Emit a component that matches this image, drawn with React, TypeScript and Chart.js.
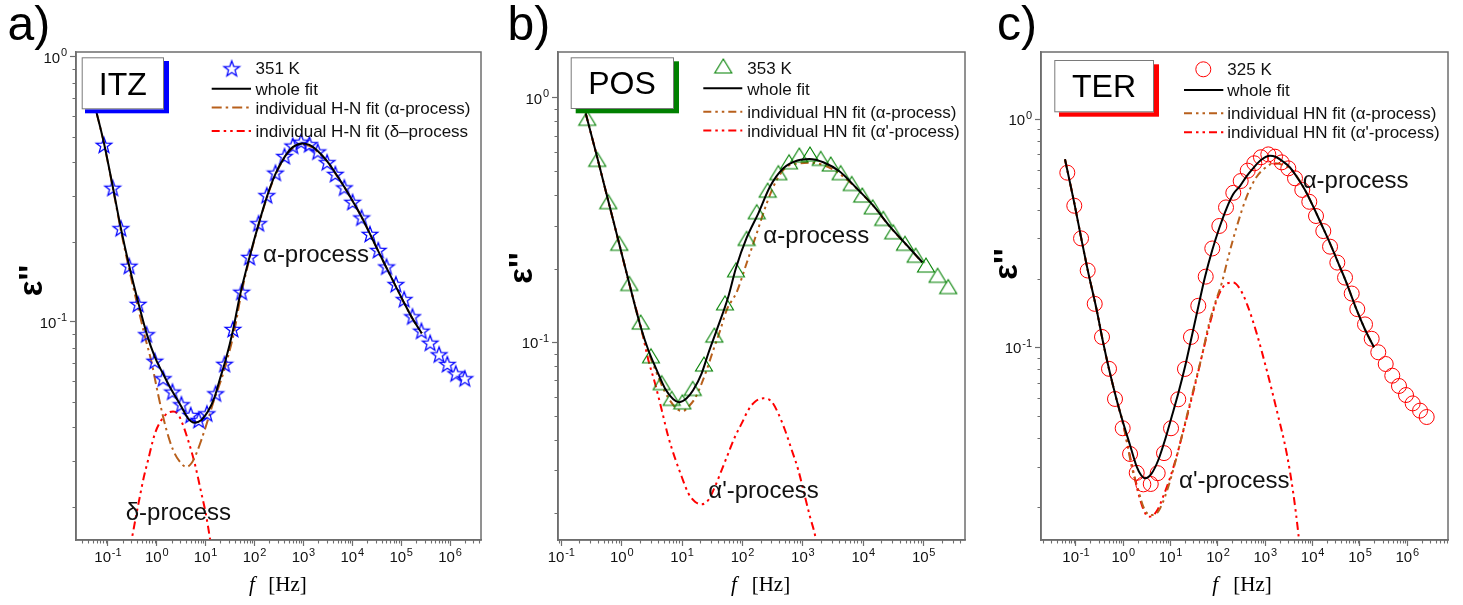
import React, { useEffect, useRef } from 'react';
import { Chart, registerables } from 'chart.js';

Chart.register(...registerables);

// ---------------- data: (a) ITZ, 351 K ----------------
const itzFreq = [0.0829, 0.125, 0.184, 0.272, 0.415, 0.616, 0.910, 1.35, 2.09, 3.19, 4.94, 7.2, 10.6, 16.0, 24.4, 36.1, 54.3, 79.1, 121, 178, 268, 410, 605, 898, 1325, 1959, 3048, 4500, 6870, 10140, 15490, 22970, 33960, 50140, 78000, 115000, 170000, 259000, 391000, 597000, 881000, 1.31e6, 2.0e6];
const itzEps = [0.466, 0.321, 0.226, 0.163, 0.117, 0.0899, 0.0714, 0.0613, 0.0546, 0.0489, 0.0446, 0.0427, 0.0452, 0.0538, 0.0695, 0.0941, 0.130, 0.176, 0.236, 0.301, 0.366, 0.423, 0.463, 0.479, 0.469, 0.440, 0.401, 0.362, 0.322, 0.284, 0.248, 0.215, 0.187, 0.162, 0.139, 0.122, 0.105, 0.0927, 0.0835, 0.0755, 0.0694, 0.0640, 0.0613];
const itzFitFreq = [0.0471, 0.0588, 0.0829, 0.125, 0.184, 0.272, 0.415, 0.616, 0.910, 1.35, 1.84, 3.19, 4.35, 5.96, 8.17, 11.1, 15.3, 19.3, 25.6, 35.6, 49.4, 79.1, 121, 178, 268, 410, 605, 955, 1325, 1959, 3048, 4500, 6870, 10140, 15490, 22970, 33960, 50140, 78000, 115000, 170000, 264000];
const itzFitEps = [0.725, 0.615, 0.474, 0.326, 0.226, 0.163, 0.119, 0.0908, 0.0738, 0.0636, 0.0570, 0.0479, 0.0433, 0.0417, 0.0427, 0.0459, 0.0522, 0.0604, 0.0719, 0.0917, 0.124, 0.176, 0.234, 0.296, 0.362, 0.419, 0.457, 0.472, 0.466, 0.442, 0.405, 0.365, 0.323, 0.286, 0.249, 0.215, 0.185, 0.160, 0.136, 0.118, 0.103, 0.0906];
const itzAlphaFreq = [0.0471, 0.0588, 0.0829, 0.125, 0.184, 0.272, 0.415, 0.596, 0.780, 0.986, 1.247, 1.578, 2.15, 2.95, 4.04, 5.11, 6.46, 8.17, 11.1, 15.3, 20.7, 27.5, 38.2, 51.8, 79.1, 121, 178, 268, 410, 605, 955, 1325, 1959, 3048, 4500, 6870, 10140, 15490, 22970, 33960, 50140, 78000, 115000, 170000, 264000];
const itzAlphaEps = [0.725, 0.615, 0.472, 0.323, 0.222, 0.158, 0.113, 0.0855, 0.0706, 0.0570, 0.0466, 0.0391, 0.0329, 0.0297, 0.0284, 0.0293, 0.0319, 0.0359, 0.0427, 0.0516, 0.0604, 0.0719, 0.0917, 0.124, 0.174, 0.232, 0.294, 0.359, 0.416, 0.453, 0.468, 0.462, 0.438, 0.403, 0.363, 0.323, 0.286, 0.249, 0.215, 0.185, 0.160, 0.136, 0.118, 0.103, 0.0906];
const itzDeltaFreq = [0.268, 0.305, 0.373, 0.450, 0.543, 0.664, 0.910, 1.247, 1.70, 2.15, 2.68, 3.19, 4.35, 5.96, 8.17, 10.0, 12.07, 13.25];
const itzDeltaEps = [0.01332, 0.01504, 0.01837, 0.02193, 0.02600, 0.03015, 0.0378, 0.0427, 0.0454, 0.0459, 0.0450, 0.0423, 0.0359, 0.0293, 0.02257, 0.01902, 0.01548, 0.01379];

// ---------------- data: (b) POS, 353 K ----------------
const posFreq = [0.269, 0.394, 0.600, 0.912, 1.34, 2.06, 3.05, 4.59, 6.73, 10.1, 15.0, 23.0, 34.2, 51.3, 78.0, 117, 172, 261, 392, 589, 872, 1311, 1972, 2886, 4223, 6427, 9624, 14310, 21440, 31390, 49000, 73700, 109000, 170000, 255000];
const posEps = [0.824, 0.560, 0.376, 0.254, 0.174, 0.121, 0.0881, 0.0684, 0.0590, 0.0571, 0.0648, 0.0815, 0.107, 0.145, 0.198, 0.266, 0.342, 0.419, 0.494, 0.547, 0.583, 0.589, 0.565, 0.536, 0.494, 0.446, 0.400, 0.358, 0.321, 0.283, 0.254, 0.227, 0.207, 0.188, 0.169];
const posFitFreq = [0.2535, 0.394, 0.600, 0.913, 1.336, 2.14, 2.76, 3.80, 5.21, 7.15, 8.99, 11.9, 15.3, 21.1, 27.2, 37.4, 58.2, 78.0, 117, 183, 285, 474, 789, 1276, 2177, 4113, 7776, 14650, 27670, 52300, 94900];
const posFitEps = [0.863, 0.569, 0.378, 0.252, 0.174, 0.1122, 0.0930, 0.0770, 0.0648, 0.0585, 0.0569, 0.0590, 0.0638, 0.0747, 0.0902, 0.1122, 0.1536, 0.2013, 0.267, 0.3368, 0.4326, 0.5145, 0.5526, 0.5615, 0.5445, 0.4981, 0.4262, 0.3618, 0.2970, 0.2499, 0.2124];
const posAlphaFreq = [0.2535, 0.394, 0.600, 0.913, 1.336, 2.14, 2.76, 3.80, 5.21, 7.15, 8.65, 10.47, 12.67, 16.35, 21.1, 25.5, 32.9, 42.4, 54.7, 80.2, 117, 172, 252, 368, 539, 895, 1311, 2177, 3627, 7776, 14650, 27670, 52300, 94900];
const posAlphaEps = [0.863, 0.569, 0.378, 0.252, 0.174, 0.1112, 0.0913, 0.0749, 0.0626, 0.0554, 0.0529, 0.0524, 0.0545, 0.0590, 0.0680, 0.0770, 0.0930, 0.1112, 0.1355, 0.1605, 0.2104, 0.279, 0.370, 0.4608, 0.5223, 0.5393, 0.5424, 0.5307, 0.4981, 0.4254, 0.3611, 0.2964, 0.2494, 0.2120];
const posAlphaPrimeFreq = [0.2535, 0.394, 0.600, 0.913, 1.336, 2.14, 2.76, 3.56, 4.60, 5.91, 7.63, 9.85, 12.67, 16.35, 21.1, 27.2, 35.0, 45.2, 58.2, 75.1, 97.0, 125, 161, 221, 304, 391, 505, 653, 839, 1083, 1311, 1586, 1778];
const posAlphaPrimeEps = [0.863, 0.569, 0.378, 0.252, 0.1731, 0.1122, 0.0847, 0.0680, 0.0529, 0.0411, 0.0336, 0.02821, 0.02414, 0.02230, 0.02176, 0.02266, 0.02569, 0.03005, 0.03517, 0.0411, 0.0466, 0.0529, 0.0572, 0.0590, 0.0572, 0.0512, 0.0438, 0.0363, 0.03005, 0.02337, 0.01936, 0.01630, 0.01389];

// ---------------- data: (c) TER, 325 K ----------------
const terFreq = [0.0656, 0.0922, 0.128, 0.177, 0.249, 0.355, 0.499, 0.668, 0.971, 1.39, 1.92, 2.65, 3.80, 5.33, 7.25, 10.2, 14.5, 20.1, 26.9, 38.4, 55.1, 75.9, 107, 148, 211, 302, 425, 586, 811, 1158, 1604, 2222, 3064, 4244, 6056, 8511, 11790, 16820, 23330, 33270, 48400, 67000, 87900, 128000, 177000, 244000, 350000, 482000, 668000, 940000, 1.30e6, 1.86e6, 2.57e6];
const terEps = [0.582, 0.417, 0.300, 0.217, 0.155, 0.111, 0.0805, 0.0594, 0.0442, 0.0341, 0.0282, 0.0251, 0.0252, 0.0281, 0.0344, 0.0442, 0.0592, 0.0804, 0.111, 0.152, 0.204, 0.271, 0.340, 0.410, 0.475, 0.535, 0.594, 0.640, 0.680, 0.700, 0.684, 0.646, 0.608, 0.550, 0.489, 0.434, 0.376, 0.323, 0.276, 0.235, 0.202, 0.172, 0.147, 0.126, 0.109, 0.0951, 0.0845, 0.0751, 0.0677, 0.0618, 0.0568, 0.0528, 0.0495];
const terFitFreq = [0.0586, 0.0922, 0.1277, 0.1770, 0.274, 0.378, 0.524, 0.7255, 1.0, 1.385, 1.919, 2.366, 2.874, 3.98, 5.49, 7.60, 10.53, 14.52, 20.12, 27.87, 38.4, 53.2, 75.9, 106.7, 153, 211, 292, 405, 558, 812, 1258, 1684, 2402, 3327, 4609, 6902, 10340, 15550, 23290, 34880, 52480, 85360, 127900, 198100];
const terFitEps = [0.666, 0.4285, 0.3041, 0.2182, 0.1457, 0.1041, 0.0769, 0.0588, 0.04646, 0.03733, 0.02999, 0.02758, 0.02668, 0.02805, 0.03209, 0.03926, 0.04966, 0.0629, 0.0822, 0.1113, 0.1506, 0.2032, 0.2668, 0.3331, 0.4075, 0.4693, 0.5087, 0.5627, 0.6099, 0.6614, 0.6906, 0.6818, 0.6501, 0.6132, 0.5588, 0.4887, 0.4128, 0.3433, 0.2854, 0.2340, 0.1907, 0.1457, 0.1197, 0.1];
const terAlphaFreq = [0.0586, 0.0922, 0.1277, 0.1770, 0.274, 0.378, 0.524, 0.7255, 1.0, 1.227, 1.504, 2.075, 2.646, 3.665, 5.08, 6.48, 8.93, 12.37, 17.13, 23.62, 32.7, 45.4, 62.5, 86.6, 120, 165.4, 249, 405, 658, 1071, 1477, 2402, 3907, 6902, 10340, 15550, 23290, 34880, 52480, 85360, 127900, 198100];
const terAlphaEps = [0.666, 0.4285, 0.3041, 0.2182, 0.1457, 0.1041, 0.0769, 0.0588, 0.04613, 0.03733, 0.02999, 0.02371, 0.02003, 0.01842, 0.01874, 0.02039, 0.02451, 0.03103, 0.04058, 0.0531, 0.0696, 0.0910, 0.1231, 0.1559, 0.1907, 0.2486, 0.3375, 0.4567, 0.5588, 0.6180, 0.6397, 0.6288, 0.5876, 0.4887, 0.4128, 0.3433, 0.2854, 0.2340, 0.1907, 0.1457, 0.1197, 0.1];
const terAlphaPrimeFreq = [0.0586, 0.0922, 0.1277, 0.1770, 0.274, 0.378, 0.524, 0.7255, 1.0, 1.257, 1.603, 2.075, 2.646, 3.375, 4.242, 5.41, 6.90, 9.70, 13.43, 18.52, 25.66, 35.55, 49.0, 67.9, 94.1, 127.8, 165.4, 211, 292, 405, 658, 1071, 1742, 2834, 3907, 4983, 5413];
const terAlphaPrimeEps = [0.666, 0.4285, 0.3041, 0.2182, 0.1457, 0.1041, 0.0769, 0.0588, 0.04567, 0.03658, 0.02902, 0.02300, 0.01957, 0.01811, 0.01833, 0.01957, 0.02210, 0.02676, 0.03341, 0.04299, 0.0559, 0.0733, 0.0973, 0.1278, 0.1611, 0.1837, 0.1912, 0.1922, 0.1800, 0.1559, 0.1151, 0.0795, 0.0531, 0.03431, 0.02293, 0.01532, 0.01295];

// ---------------- ticks (decade exponents) ----------------
const xDecadesA = [-1, 0, 1, 2, 3, 4, 5, 6];
const xDecadesB = [-1, 0, 1, 2, 3, 4, 5];
const xDecadesC = [-1, 0, 1, 2, 3, 4, 5, 6];
const yDecades = [-1, 0];

// ---------------- texts ----------------
const legendA = ['351 K', 'whole fit', 'individual H-N fit (α-process)', 'individual H-N fit (δ–process'];
const legendB = ['353 K', 'whole fit', 'individual HN fit (α-process)', "individual HN fit (α'-process)"];
const legendC = ['325 K', 'whole fit', 'individual HN fit (α-process)', "individual HN fit (α'-process)"];

// ---------------- styles ----------------
const FONT = '"Liberation Sans", Arial, "DejaVu Sans", sans-serif';
const SERIF = '"Liberation Serif", "Times New Roman", serif';
const BLUE = '#0000ff';
const GREEN = '#008000';
const RED = '#ff0000';
const BROWN = '#b8601c';
const BLACK = '#000000';
const AXIS = '#6e6e6e';
const DASH_DOT = [10, 4, 2.5, 4];
const DASH_DOT_DOT = [8, 4, 2.5, 4, 2.5, 4];

function pts(xs: number[], ys: number[]) {
  return xs.map((x, i) => ({ x, y: ys[i] }));
}

function makeStar(): HTMLCanvasElement {
  const c = document.createElement('canvas');
  c.width = 20; c.height = 20;
  const ctx = c.getContext('2d')!;
  ctx.beginPath();
  for (let i = 0; i < 10; i++) {
    const r = i % 2 === 0 ? 8.2 : 3.4;
    const a = -Math.PI / 2 + (i * Math.PI) / 5;
    const px = 10 + r * Math.cos(a);
    const py = 10.8 + r * Math.sin(a);
    if (i === 0) ctx.moveTo(px, py); else ctx.lineTo(px, py);
  }
  ctx.closePath();
  ctx.strokeStyle = BLUE; ctx.lineWidth = 1.3; ctx.lineJoin = 'miter';
  ctx.stroke();
  return c;
}

function makeTriangle(): HTMLCanvasElement {
  const c = document.createElement('canvas');
  c.width = 20; c.height = 18;
  const ctx = c.getContext('2d')!;
  ctx.beginPath();
  ctx.moveTo(10, 2); ctx.lineTo(18.5, 16); ctx.lineTo(1.5, 16); ctx.closePath();
  ctx.strokeStyle = GREEN; ctx.lineWidth = 1.1;
  ctx.stroke();
  return c;
}

type Markers = { star: HTMLCanvasElement; tri: HTMLCanvasElement };

function lineDs(xs: number[], ys: number[], color: string, dash: number[], order: number) {
  return {
    data: pts(xs, ys), showLine: true, borderColor: color, backgroundColor: color, borderWidth: 2,
    borderDash: dash, borderCapStyle: 'butt', pointRadius: 0, pointHoverRadius: 0,
    cubicInterpolationMode: 'monotone', fill: false, clip: 0, order,
  };
}
function markerDs(xs: number[], ys: number[], style: any, color: string, radius: number, order: number) {
  return {
    data: pts(xs, ys), showLine: false, pointStyle: style, pointRadius: radius, pointHoverRadius: radius,
    pointBorderColor: color, pointBackgroundColor: 'rgba(0,0,0,0)', pointBorderWidth: 1,
    borderColor: color, backgroundColor: 'rgba(0,0,0,0)', order,
  };
}

type Row = { text: string; base: number; lineY?: number; color?: string; dash?: number[] };
type PanelDef = {
  offsetX: number; width: number; yAxisWidth: number; padRight: number;
  xMin: number; xMax: number; yMin: number; yMax: number;
  xDecades: number[]; yDecades: number[];
  series: (m: Markers) => any[];
  label: string; labelX: number;
  epsX: number; epsY: number; fX: number; hzX: number;
  box: { x: number; y: number; w: number; h: number; sx: number; sy: number; sw: number; sh: number; color: string; text: string; tx: number; ty: number };
  legend: { textX: number; l0: number; l1: number; marker: 'star' | 'tri' | 'circle'; mx: number; my: number; rows: Row[] };
  notes: { text: string; x: number; base: number }[];
};

const panelA: PanelDef = {
  offsetX: 0, width: 490, yAxisWidth: 76, padRight: 8,
  xMin: 0.02223, xMax: 4.295e6, yMin: 0.01504, yMax: 1.0444,
  xDecades: xDecadesA, yDecades,
  series: (m) => [
    lineDs(itzFitFreq, itzFitEps, BLACK, [], 0),
    markerDs(itzFreq, itzEps, m.star, BLUE, 8, 1),
    lineDs(itzAlphaFreq, itzAlphaEps, BROWN, DASH_DOT, 2),
    lineDs(itzDeltaFreq, itzDeltaEps, RED, DASH_DOT_DOT, 3),
  ],
  label: 'a)', labelX: 7.5,
  epsX: 41.7, epsY: 280.5, fX: 249, hzX: 268.3,
  box: { x: 81.7, y: 57.3, w: 82.3, h: 52, sx: 85, sy: 61, sw: 84, sh: 52.3, color: BLUE, text: 'ITZ', tx: 122.8, ty: 95 },
  legend: {
    textX: 255.5, l0: 211.7, l1: 251, marker: 'star', mx: 231.7, my: 68.3,
    rows: [
      { text: legendA[0], base: 74 },
      { text: legendA[1], base: 95, lineY: 88.7, color: BLACK, dash: [] },
      { text: legendA[2], base: 114.3, lineY: 107.5, color: BROWN, dash: DASH_DOT },
      { text: legendA[3], base: 136.7, lineY: 131, color: RED, dash: DASH_DOT_DOT },
    ],
  },
  notes: [
    { text: 'α-process', x: 263, base: 262 },
    { text: 'δ-process', x: 125.7, base: 520 },
  ],
};

const panelB: PanelDef = {
  offsetX: 490, width: 490, yAxisWidth: 68, padRight: 15,
  xMin: 0.0882, xMax: 4.83e5, yMin: 0.01555, yMax: 1.538,
  xDecades: xDecadesB, yDecades,
  series: (m) => [
    lineDs(posFitFreq, posFitEps, BLACK, [], 0),
    markerDs(posFreq, posEps, m.tri, GREEN, 8, 1),
    lineDs(posAlphaFreq, posAlphaEps, BROWN, DASH_DOT_DOT, 2),
    lineDs(posAlphaPrimeFreq, posAlphaPrimeEps, RED, DASH_DOT_DOT, 3),
  ],
  label: 'b)', labelX: 507.5,
  epsX: 531.7, epsY: 268, fX: 731, hzX: 751.7,
  box: { x: 570.7, y: 57.3, w: 103.3, h: 51.7, sx: 575.7, sy: 61.3, sw: 103.3, sh: 52, color: GREEN, text: 'POS', tx: 622, ty: 94.3 },
  legend: {
    textX: 747.3, l0: 703.3, l1: 742.3, marker: 'tri', mx: 723.3, my: 66,
    rows: [
      { text: legendB[0], base: 74 },
      { text: legendB[1], base: 95, lineY: 88.3, color: BLACK, dash: [] },
      { text: legendB[2], base: 117.7, lineY: 111.7, color: BROWN, dash: DASH_DOT_DOT },
      { text: legendB[3], base: 136.7, lineY: 130.5, color: RED, dash: DASH_DOT_DOT },
    ],
  },
  notes: [
    { text: 'α-process', x: 763.3, base: 243.3 },
    { text: "α'-process", x: 708.3, base: 498.3 },
  ],
};

const panelC: PanelDef = {
  offsetX: 980, width: 483, yAxisWidth: 61, padRight: 15,
  xMin: 0.01825, xMax: 7.25e6, yMin: 0.01432, yMax: 1.966,
  xDecades: xDecadesC, yDecades,
  series: () => [
    lineDs(terFitFreq, terFitEps, BLACK, [], 0),
    markerDs(terFreq, terEps, 'circle', RED, 7.5, 1),
    lineDs(terAlphaFreq, terAlphaEps, BROWN, DASH_DOT_DOT, 2),
    lineDs(terAlphaPrimeFreq, terAlphaPrimeEps, RED, DASH_DOT_DOT, 3),
  ],
  label: 'c)', labelX: 997,
  epsX: 1016.7, epsY: 264, fX: 1212.3, hzX: 1233.3,
  box: { x: 1054.3, y: 60, w: 99.7, h: 52.3, sx: 1059, sy: 64.3, sw: 100, sh: 52.4, color: RED, text: 'TER', tx: 1104, ty: 97.3 },
  legend: {
    textX: 1227.3, l0: 1184, l1: 1223.3, marker: 'circle', mx: 1203.3, my: 69.3,
    rows: [
      { text: legendC[0], base: 75 },
      { text: legendC[1], base: 96, lineY: 90, color: BLACK, dash: [] },
      { text: legendC[2], base: 119.3, lineY: 113.3, color: BROWN, dash: DASH_DOT_DOT },
      { text: legendC[3], base: 138.3, lineY: 132.3, color: RED, dash: DASH_DOT_DOT },
    ],
  },
  notes: [
    { text: 'α-process', x: 1302.7, base: 188.3 },
    { text: "α'-process", x: 1179, base: 488.3 },
  ],
};

function drawPower(ctx: CanvasRenderingContext2D, exp: number, x: number, base: number, align: 'center' | 'right') {
  const mant = '10';
  const e = String(exp);
  ctx.textAlign = 'left'; ctx.textBaseline = 'alphabetic';
  ctx.font = '15px ' + FONT;
  const wm = ctx.measureText(mant).width;
  ctx.font = '11px ' + FONT;
  const we = ctx.measureText(e).width;
  const total = wm + 0.8 + we;
  const x0 = align === 'center' ? x - total / 2 : x - total;
  ctx.font = '15px ' + FONT;
  ctx.fillText(mant, x0, base);
  ctx.font = '11px ' + FONT;
  ctx.fillText(e, x0 + wm + 0.8, base - 6.5);
}

function decorPlugin(p: PanelDef, m: Markers) {
  return {
    id: 'decor' + p.offsetX,
    afterDraw(chart: any) {
      const ctx: CanvasRenderingContext2D = chart.ctx;
      const A = chart.chartArea;
      const xs = chart.scales.x;
      const ys = chart.scales.y;
      const o = p.offsetX;
      ctx.save();
      // frame
      ctx.strokeStyle = AXIS; ctx.lineWidth = 1.5; ctx.setLineDash([]);
      ctx.strokeRect(A.left, A.top, A.right - A.left, A.bottom - A.top);
      // minor ticks
      ctx.lineWidth = 1.1;
      ctx.beginPath();
      for (let d = Math.floor(Math.log10(xs.min)); d <= Math.ceil(Math.log10(xs.max)); d++) {
        for (let k = 2; k <= 9; k++) {
          const v = k * Math.pow(10, d);
          if (v < xs.min || v > xs.max) continue;
          const px = Math.round(xs.getPixelForValue(v)) + 0.5;
          ctx.moveTo(px, A.bottom); ctx.lineTo(px, A.bottom + 3.5);
        }
      }
      for (let d = Math.floor(Math.log10(ys.min)); d <= Math.ceil(Math.log10(ys.max)); d++) {
        for (let k = 2; k <= 9; k++) {
          const v = k * Math.pow(10, d);
          if (v < ys.min || v > ys.max) continue;
          const py = Math.round(ys.getPixelForValue(v)) + 0.5;
          ctx.moveTo(A.left, py); ctx.lineTo(A.left - 3.5, py);
        }
      }
      ctx.stroke();

      // decade tick labels (10 with raised exponent), placed by the scales
      ctx.fillStyle = '#111';
      for (const d of p.xDecades) {
        const px = xs.getPixelForValue(Math.pow(10, d));
        drawPower(ctx, d, px, A.bottom + 22, 'center');
      }
      for (const d of p.yDecades) {
        const py = ys.getPixelForValue(Math.pow(10, d));
        drawPower(ctx, d, A.left - 9, py + 6, 'right');
      }

      // sample box with shadow
      const b = p.box;
      ctx.fillStyle = b.color;
      ctx.fillRect(b.sx - o, b.sy, b.sw, b.sh);
      ctx.fillStyle = '#ffffff';
      ctx.fillRect(b.x - o, b.y, b.w, b.h);
      ctx.strokeStyle = '#7a7a7a'; ctx.lineWidth = 1;
      ctx.strokeRect(b.x - o + 0.5, b.y + 0.5, b.w - 1, b.h - 1);
      ctx.fillStyle = '#000';
      ctx.font = '32px ' + FONT;
      ctx.textAlign = 'center'; ctx.textBaseline = 'alphabetic';
      ctx.fillText(b.text, b.tx - o, b.ty);

      // legend
      const L = p.legend;
      if (L.marker === 'star') {
        ctx.drawImage(m.star, L.mx - o - m.star.width / 2, L.my - m.star.height / 2);
      } else if (L.marker === 'tri') {
        ctx.drawImage(m.tri, L.mx - o - m.tri.width / 2, L.my - m.tri.height / 2);
      } else {
        ctx.beginPath(); ctx.arc(L.mx - o, L.my, 7.5, 0, Math.PI * 2);
        ctx.strokeStyle = RED; ctx.lineWidth = 1; ctx.stroke();
      }
      ctx.font = '17px ' + FONT;
      ctx.textAlign = 'left'; ctx.textBaseline = 'alphabetic';
      for (const r of L.rows) {
        if (r.lineY !== undefined) {
          ctx.beginPath();
          ctx.setLineDash(r.dash || []);
          ctx.strokeStyle = r.color || '#000'; ctx.lineWidth = 2; ctx.lineCap = 'butt';
          ctx.moveTo(L.l0 - o, r.lineY); ctx.lineTo(L.l1 - o, r.lineY);
          ctx.stroke();
          ctx.setLineDash([]);
        }
        ctx.fillStyle = '#111';
        ctx.fillText(r.text, L.textX - o, r.base);
      }

      // annotations
      ctx.font = '24px ' + FONT;
      ctx.fillStyle = '#111';
      for (const n of p.notes) ctx.fillText(n.text, n.x - o, n.base);

      // panel label
      ctx.font = '48px ' + FONT;
      ctx.fillStyle = '#000';
      ctx.fillText(p.label, p.labelX - o, 40);

      // axis titles
      ctx.font = 'italic 21px ' + SERIF;
      ctx.fillText('f', p.fX - o, 591);
      ctx.font = '21px ' + SERIF;
      ctx.fillText('[Hz]', p.hzX - o, 591);

      ctx.save();
      ctx.translate(p.epsX - o, p.epsY);
      ctx.rotate(-Math.PI / 2);
      ctx.font = 'bold 33px ' + FONT;
      ctx.textAlign = 'center'; ctx.textBaseline = 'alphabetic';
      ctx.fillText("ε''", 0, 0);
      ctx.restore();

      ctx.restore();
    },
  };
}

function buildConfig(p: PanelDef, m: Markers): any {
  return {
    type: 'scatter',
    data: { datasets: p.series(m) },
    options: {
      responsive: false, maintainAspectRatio: false, animation: false, devicePixelRatio: 1, events: [],
      layout: { padding: { left: 0, top: 52, right: p.padRight, bottom: 0 } },
      plugins: { legend: { display: false }, tooltip: { enabled: false }, title: { display: false } },
      scales: {
        x: {
          type: 'logarithmic', position: 'bottom', min: p.xMin, max: p.xMax, bounds: 'data',
          afterBuildTicks: (s: any) => { s.ticks = p.xDecades.map((d) => ({ value: Math.pow(10, d) })); },
          afterFit: (s: any) => { s.height = 65; },
          grid: { display: true, drawOnChartArea: false, drawTicks: true, tickLength: 6, tickWidth: 1.2, tickColor: AXIS, color: AXIS },
          border: { display: true, color: AXIS, width: 1.5 },
          ticks: { display: false },
        },
        y: {
          type: 'logarithmic', position: 'left', min: p.yMin, max: p.yMax, bounds: 'data',
          afterBuildTicks: (s: any) => { s.ticks = p.yDecades.map((d) => ({ value: Math.pow(10, d) })); },
          afterFit: (s: any) => { s.width = p.yAxisWidth; },
          grid: { display: true, drawOnChartArea: false, drawTicks: true, tickLength: 6, tickWidth: 1.2, tickColor: AXIS, color: AXIS },
          border: { display: true, color: AXIS, width: 1.5 },
          ticks: { display: false },
        },
      },
    },
    plugins: [decorPlugin(p, m)],
  };
}

function Panel({ def }: { def: PanelDef }) {
  const ref = useRef<HTMLCanvasElement | null>(null);
  useEffect(() => {
    const canvas = ref.current;
    if (!canvas) return;
    const markers: Markers = { star: makeStar(), tri: makeTriangle() };
    const chart = new Chart(canvas, buildConfig(def, markers));
    return () => chart.destroy();
  }, [def]);
  return (
    <canvas
      ref={ref}
      width={def.width}
      height={605}
      style={{ position: 'absolute', left: def.offsetX, top: 0, width: def.width, height: 605 }}
    />
  );
}

export default function App() {
  return (
    <div style={{ position: 'absolute', left: 0, top: 0, width: 1463, height: 605, background: '#ffffff', overflow: 'hidden' }}>
      <Panel def={panelA} />
      <Panel def={panelB} />
      <Panel def={panelC} />
    </div>
  );
}
